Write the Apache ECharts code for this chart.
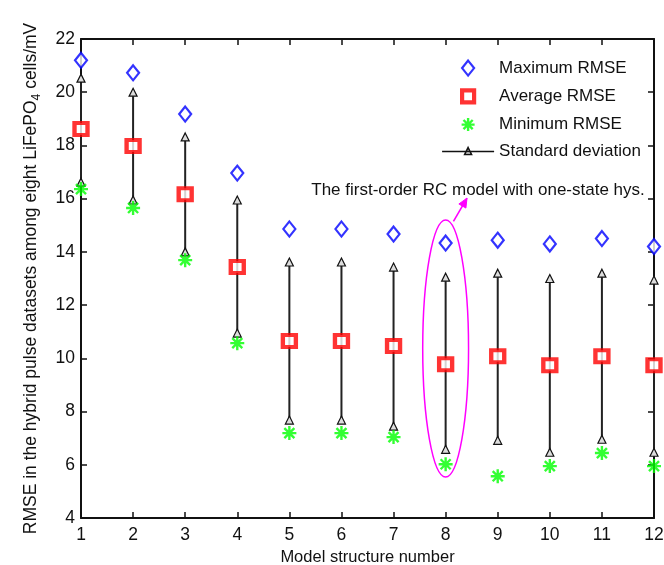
<!DOCTYPE html>
<html><head><meta charset="utf-8">
<script src="https://cdn.jsdelivr.net/npm/echarts@6/dist/echarts.min.js"></script>
<style>html,body{margin:0;padding:0;background:#fff}#c{width:664px;height:565px}</style>
</head><body><div id="c"></div>
<script>
const modelNumbers = [1, 2, 3, 4, 5, 6, 7, 8, 9, 10, 11, 12];
const maxRMSE = [21.2, 20.73, 19.18, 16.96, 14.86, 14.86, 14.67, 14.33, 14.44, 14.3, 14.5, 14.2];
const avgRMSE = [18.62, 17.98, 16.17, 13.43, 10.65, 10.65, 10.46, 9.78, 10.08, 9.74, 10.08, 9.74];
const minRMSE = [16.36, 15.65, 13.69, 10.57, 7.19, 7.19, 7.04, 6.02, 5.57, 5.95, 6.44, 5.95];
const stdUpper = [20.53, 20.0, 18.32, 15.95, 13.62, 13.62, 13.43, 13.05, 13.2, 13.0, 13.2, 12.94];
const stdLower = [16.62, 15.95, 14.0, 10.95, 7.68, 7.68, 7.45, 6.58, 6.92, 6.47, 6.96, 6.47];
const seriesNames = ['Maximum RMSE', 'Average RMSE', 'Minimum RMSE', 'Standard deviation'];
const annotationText = 'The first-order RC model with one-state hys.';
const highlightedModel = 8;

const FONT = '"Liberation Sans", Arial, Helvetica, sans-serif';
const chart = echarts.init(document.getElementById('c'), null, {renderer: 'canvas'});

const stdData = [];
modelNumbers.forEach((x, i) => {
  stdData.push([x, stdUpper[i]]);
  stdData.push([x, stdLower[i]]);
  stdData.push([x, '-']);
});
const pair = arr => modelNumbers.map((x, i) => [x, arr[i]]);
const asterisk = 'path://M0,-6L0,6M-6,0L6,0M-4.3,-4.3L4.3,4.3M-4.3,4.3L4.3,-4.3';
// legend icons: invisible bounding points keep the glyph at its natural size inside a 52x16 box
const BOX = 'M-26,-8M26,8';
const legendIcons = {
  max: 'path://' + BOX + 'M0,-7.5L6,0L0,7.5L-6,0Z',
  avg: 'path://' + BOX + 'M-6,-6L6,-6L6,6L-6,6Z',
  min: 'path://' + BOX + 'M0,-6.5L0,6.5M-6.5,0L6.5,0M-4.6,-4.6L4.6,4.6M-4.6,4.6L4.6,-4.6',
  std: 'path://' + BOX + 'M-26,0L26,0M0,-4L3.5,3L-3.5,3Z'
};

const axisCommon = {
  axisLine: {show: true, onZero: false, lineStyle: {color: '#111', width: 2}},
  axisTick: {show: true, inside: true, length: 6, lineStyle: {color: '#111', width: 1.5}},
  splitLine: {show: false}
};

chart.setOption({
  animation: false,
  backgroundColor: '#fff',
  textStyle: {fontFamily: FONT},
  grid: {left: 81, right: 10, top: 39, bottom: 47, containLabel: false, outerBoundsMode: 'none'},
  legend: {
    orient: 'vertical', left: 440, top: 59, padding: 0,
    itemWidth: 52, itemHeight: 16, itemGap: 9,
    data: [
      {name: seriesNames[0], icon: legendIcons.max, itemStyle: {color: '#fff', borderColor: '#0000ff', borderWidth: 2.2}},
      {name: seriesNames[1], icon: legendIcons.avg, itemStyle: {color: '#fff', borderColor: '#ff0000', borderWidth: 4.2}},
      {name: seriesNames[2], icon: legendIcons.min, itemStyle: {color: '#00ff00', borderColor: '#00ff00', borderWidth: 2.4}},
      {name: seriesNames[3], icon: legendIcons.std, itemStyle: {color: '#ddd', borderColor: '#111', borderWidth: 1.5}}
    ],
    textStyle: {fontSize: 17, color: '#111', fontFamily: FONT}
  },
  xAxis: [
    Object.assign({}, axisCommon, {
      type: 'value', min: 1, max: 12, interval: 1,
      name: 'Model structure number', nameLocation: 'middle', nameGap: 31,
      nameTextStyle: {fontSize: 16.5, color: '#111'},
      axisLabel: {fontSize: 17.5, color: '#111', margin: 8}
    }),
    Object.assign({}, axisCommon, {
      type: 'value', min: 1, max: 12, interval: 1, position: 'top',
      axisLabel: {show: false}
    })
  ],
  yAxis: [
    Object.assign({}, axisCommon, {
      type: 'value', min: 4, max: 22, interval: 2,
      name: '{a|RMSE in the hybrid pulse datasets among eight LiFePO}{s|4}{a| cells/mV}',
      nameLocation: 'middle', nameGap: 38,
      nameTextStyle: {
        rich: {
          a: {fontSize: 17.5, color: '#111', fontFamily: FONT},
          s: {fontSize: 12, color: '#111', fontFamily: FONT, padding: [12, 0, 0, 0]}
        }
      },
      axisLabel: {fontSize: 17.5, color: '#111', margin: 6}
    }),
    Object.assign({}, axisCommon, {
      type: 'value', min: 4, max: 22, interval: 2, position: 'right',
      axisLabel: {show: false}
    })
  ],
  series: [
    {
      name: seriesNames[3], type: 'line', data: stdData, connectNulls: false,
      lineStyle: {color: '#222', width: 2},
      symbol: 'triangle', symbolSize: [8, 8], showSymbol: true,
      itemStyle: {color: '#ddd', borderColor: '#111', borderWidth: 1.2},
      z: 2
    },
    {
      name: seriesNames[0], type: 'scatter', data: pair(maxRMSE),
      symbol: 'diamond', symbolSize: [12, 15],
      itemStyle: {color: '#fff', borderColor: '#0000ff', borderWidth: 2.2},
      z: 3
    },
    {
      name: seriesNames[1], type: 'scatter', data: pair(avgRMSE),
      symbol: 'rect', symbolSize: [13, 12],
      itemStyle: {color: '#fff', borderColor: '#ff0000', borderWidth: 4.2},
      z: 3
    },
    {
      name: seriesNames[2], type: 'scatter', data: pair(minRMSE),
      symbol: asterisk, symbolSize: [14, 14],
      itemStyle: {color: '#00ff00', borderColor: '#00ff00', borderWidth: 2.4},
      z: 3
    }
  ]
});

// Annotation: ellipse around model 8 and arrow to the text
const toPx = p => chart.convertToPixel({xAxisIndex: 0, yAxisIndex: 0}, p);
const c = toPx([highlightedModel, 10.37]);
const ex = toPx([highlightedModel + 0.44, 10.37 + 4.83]);
const a0 = toPx([highlightedModel + 0.15, 15.15]);
const a1 = toPx([highlightedModel + 0.41, 16.02]);
const ang = Math.atan2(a1[1] - a0[1], a1[0] - a0[0]);
const hl = 10, hw = 0.42;
const h1 = [a1[0] - hl * Math.cos(ang - hw), a1[1] - hl * Math.sin(ang - hw)];
const h2 = [a1[0] - hl * Math.cos(ang + hw), a1[1] - hl * Math.sin(ang + hw)];
const textPos = toPx([5.42, 16.33]);

chart.setOption({
  graphic: [
    {type: 'ellipse', shape: {cx: c[0], cy: c[1], rx: ex[0] - c[0], ry: c[1] - ex[1]},
     style: {fill: 'none', stroke: '#ff00ff', lineWidth: 1.5}, z: 10},
    {type: 'line', shape: {x1: a0[0], y1: a0[1], x2: a1[0], y2: a1[1]},
     style: {stroke: '#ff00ff', lineWidth: 1.6}, z: 10},
    {type: 'polygon', shape: {points: [h1, a1, h2]},
     style: {stroke: '#ff00ff', lineWidth: 1, fill: '#ff00ff'}, z: 10},
    {type: 'text', x: textPos[0], y: textPos[1],
     style: {text: annotationText, font: '17px ' + FONT, fill: '#111',
             textAlign: 'left', textVerticalAlign: 'middle'}, z: 10}
  ]
});
</script>
</body></html>
